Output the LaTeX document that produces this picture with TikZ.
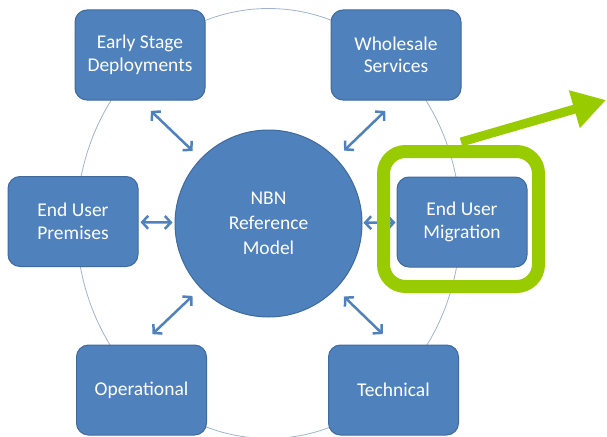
\documentclass[tikz,border=0pt]{standalone}
\usepackage{fontspec}
\setmainfont{Carlito}
\usetikzlibrary{arrows.meta}
\definecolor{boxblue}{HTML}{4F81BD}
\definecolor{boxedge}{HTML}{3F6A9E}
\definecolor{ringgray}{HTML}{9FB3CC}
\definecolor{limegreen}{HTML}{99CC00}
\tikzset{
	block/.style={draw=boxedge, line width=1pt, fill=boxblue, rounded corners=12pt,
		minimum width=130pt, minimum height=90pt, text=white, align=center,
		font=\fontsize{19.5}{22.5}\selectfont},
	hub/.style={circle, draw=boxedge, line width=1pt, fill=boxblue, minimum size=187pt,
		text=white, align=center, font=\fontsize{19.5}{25}\selectfont},
	ring/.style={ringgray, line width=0.8pt},
	link/.style={<->, boxblue, line width=2.5pt, shorten <=11pt, shorten >=15pt},
	hilite/.style={draw=limegreen, line width=13pt, rounded corners=22pt,
		minimum width=155pt, minimum height=135pt},
	pointer/.style={-{Triangle[length=33pt,width=37pt]}, limegreen, line width=9pt}
}
\begin{document}
\begin{tikzpicture}[x=1pt, y=-1pt, line join=round, >={Straight Barb[length=6pt,width=13pt]}]
	\useasboundingbox (0,0) rectangle (607,436);
	\def \rx{192pt} % outer ring
	\def \ry{215pt}
	\coordinate (hubc) at (268.5,223.5);
	\draw[ring] (hubc) ellipse [x radius=\rx, y radius=\ry];
	% the six topics round the model
	\node[block] (early) at (140,55) {Early Stage\\Deployments};
	\node[block] (wholesale) at (396,55) {Wholesale\\Services};
	\node[block] (premises) at (73,221.5) {End User\\Premises};
	\node[block] (migration) at (462,222) {End User\\Migration};
	\node[block] (operational) at (141.5,390) {Operational};
	\node[block] (technical) at (393.5,390) {Technical};
	\node[hub] (nbn) at (hubc) {NBN\\Reference\\Model};
	\foreach \to in {early.south, wholesale.south, operational.north, technical.north}
		\draw[link] (nbn) -- (\to);
	\draw[link, shorten <=2pt, shorten >=2pt] (premises) -- (nbn);
	\draw[link, shorten <=1pt, shorten >=1pt] (nbn) -- (migration);
	% highlight
	\node[hilite] (frame) at (461,219) {};
	\coordinate (tip) at (606,100);
	\draw[pointer] ([yshift=3pt]frame.north) -- (tip);
\end{tikzpicture}
\end{document}
